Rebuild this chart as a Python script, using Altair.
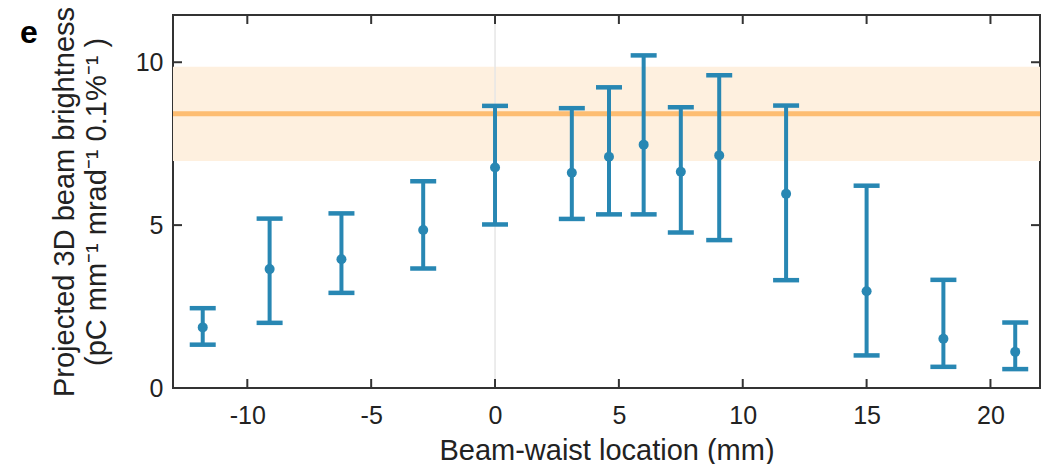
import altair as alt
import pandas as pd

# ---- data ----
waist_mm = [-11.8, -9.1, -6.2, -2.9, 0.0, 3.1, 4.6, 6.0, 7.5, 9.05, 11.75, 15.0, 18.1, 21.0]
brightness = [1.86, 3.65, 3.95, 4.85, 6.77, 6.61, 7.10, 7.47, 6.64, 7.14, 5.96, 2.97, 1.51, 1.11]
err_high = [2.45, 5.20, 5.36, 6.35, 8.66, 8.59, 9.23, 10.21, 8.62, 9.60, 8.67, 6.21, 3.32, 2.01]
err_low = [1.33, 2.00, 2.92, 3.67, 5.02, 5.19, 5.33, 5.33, 4.77, 4.54, 3.31, 1.00, 0.65, 0.58]

ref_level = [8.42]
ref_band_low = [6.97]
ref_band_high = [9.86]
center_x = [0.0]

x_ticks = [-10, -5, 0, 5, 10, 15, 20]
y_ticks = [0, 5, 10]

x_title = "Beam-waist location (mm)"
y_title = ["Projected 3D beam brightness", "(pC mm\u207b\u00b9  mrad\u207b\u00b9  0.1%\u207b\u00b9 )"]

# ---- styling ----
BLUE = "#2887b3"
ORANGE = "#fdbd72"
BAND = "#fef0df"
FRAME = "#333333"
TXT = "#222222"
FONT = "Liberation Sans"
W, H = 867, 373
TICK = 9

df = pd.DataFrame({"x": waist_mm, "y": brightness, "hi": err_high, "lo": err_low})
band_df = pd.DataFrame({"lo": ref_band_low, "hi": ref_band_high, "lvl": ref_level})
zero_df = pd.DataFrame({"x": center_x})
xt_df = pd.DataFrame({"x": x_ticks})
yt_df = pd.DataFrame({"y": y_ticks})

xs = alt.Scale(domain=[-13, 22], nice=False, zero=False)
ys = alt.Scale(domain=[0, 11.45], nice=False, zero=False)

x_axis = alt.Axis(values=x_ticks, title=x_title, labelPadding=15, titlePadding=8,
                  labelExpr="'' + datum.value",
                  domain=False, ticks=False, grid=False)
y_axis = alt.Axis(values=y_ticks, title=y_title, labelPadding=10, titlePadding=24,
                  labelExpr="'' + datum.value",
                  domain=False, ticks=False, grid=False)


def X(f):
    return alt.X(f, scale=xs, axis=x_axis)


def Y(f):
    return alt.Y(f, scale=ys, axis=y_axis)


band = alt.Chart(band_df).mark_rect(color=BAND).encode(y=Y("lo:Q"), y2="hi:Q")

zero_line = alt.Chart(zero_df).mark_rule(color="#e6e6e6", strokeWidth=1.5).encode(x=X("x:Q"))

level = alt.Chart(band_df).mark_rule(color=ORANGE, strokeWidth=5).encode(y=Y("lvl:Q"))

bars = alt.Chart(df).mark_rule(color=BLUE, strokeWidth=4).encode(
    x=X("x:Q"), y=Y("lo:Q"), y2="hi:Q")

cap_hi = alt.Chart(df).mark_tick(color=BLUE, orient="horizontal", size=26, thickness=4.5,
                                 opacity=1).encode(x=X("x:Q"), y=Y("hi:Q"))
cap_lo = alt.Chart(df).mark_tick(color=BLUE, orient="horizontal", size=26, thickness=4.5,
                                 opacity=1).encode(x=X("x:Q"), y=Y("lo:Q"))

pts = alt.Chart(df).mark_circle(color=BLUE, size=100, opacity=1).encode(x=X("x:Q"), y=Y("y:Q"))

# inward frame ticks
xt_bottom = alt.Chart(xt_df).mark_rule(color=FRAME, strokeWidth=2).encode(
    x=X("x:Q"), y=alt.value(H), y2=alt.value(H - TICK))
xt_top = alt.Chart(xt_df).mark_rule(color=FRAME, strokeWidth=2).encode(
    x=X("x:Q"), y=alt.value(0), y2=alt.value(TICK))
yt_left = alt.Chart(yt_df).mark_rule(color=FRAME, strokeWidth=2).encode(
    y=Y("y:Q"), x=alt.value(0), x2=alt.value(TICK))
yt_right = alt.Chart(yt_df).mark_rule(color=FRAME, strokeWidth=2).encode(
    y=Y("y:Q"), x=alt.value(W), x2=alt.value(W - TICK))

chart = alt.layer(
    band, zero_line, level, bars, cap_hi, cap_lo, pts,
    xt_bottom, xt_top, yt_left, yt_right
).properties(
    width=W, height=H,
    background="white",
    padding={"left": 173, "top": 15, "right": 1, "bottom": 76},
    autosize=alt.AutoSizeParams(type="none"),
    title=alt.TitleParams("e", anchor="start", frame="group", fontSize=32, fontWeight="bold",
                          font=FONT, color="#000000", dx=-153, dy=44, offset=0),
).configure_view(
    stroke=FRAME, strokeWidth=2
).configure_axis(
    labelFont=FONT, titleFont=FONT, labelFontSize=25, titleFontSize=29,
    labelColor=TXT, titleColor=TXT, titleFontWeight="normal", titleLineHeight=32
)

chart.save("out.html", embed_options={"renderer": "svg", "actions": False})
